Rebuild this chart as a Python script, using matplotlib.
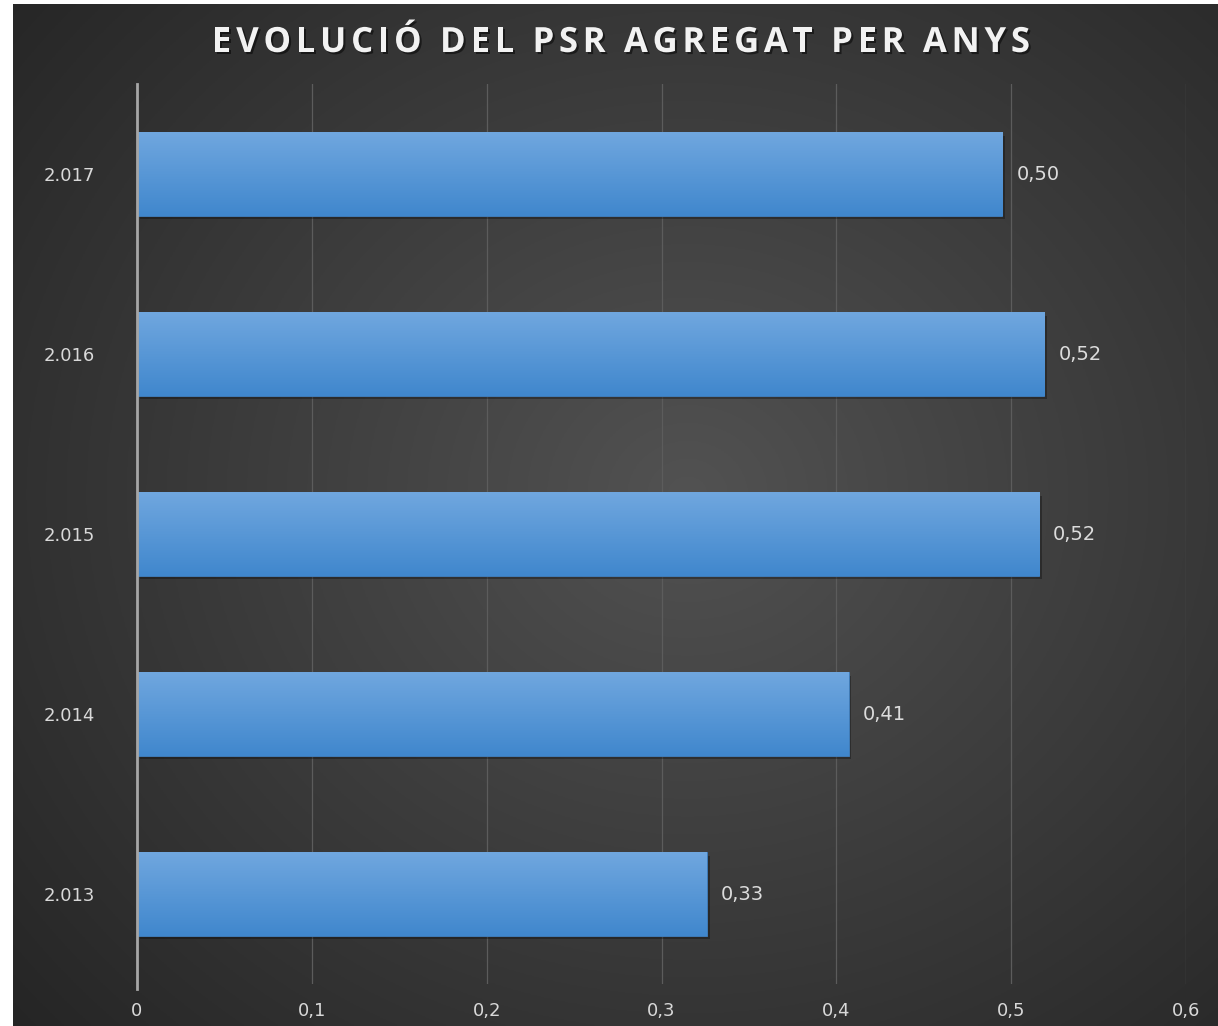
import numpy as np
import matplotlib
matplotlib.use("Agg")
import matplotlib.pyplot as plt
from matplotlib import patheffects as pe

years = ["2.013", "2.014", "2.015", "2.016", "2.017"]
values = [0.326, 0.407, 0.516, 0.519, 0.495]
value_labels = ["0,33", "0,41", "0,52", "0,52", "0,50"]
xticks = [0, 0.1, 0.2, 0.3, 0.4, 0.5, 0.6]
xtick_labels = ["0", "0,1", "0,2", "0,3", "0,4", "0,5", "0,6"]
title = "EVOLUCIÓ DEL PSR AGREGAT PER ANYS"

plt.rcParams['font.family'] = ['DejaVu Sans']

W, H = 1218, 1026
fig = plt.figure(figsize=(W / 100, H / 100), dpi=100)
fig.patch.set_facecolor("white")

# background with radial gradient
bg = fig.add_axes([13 / W, 0, 1 - 13 / W, 1 - 4 / H])
bg.set_axis_off()
yy, xx = np.mgrid[0:1:400j, 0:1:400j]
cx, cy = 0.56, 0.52
r = np.sqrt(((xx - cx) * 1.0) ** 2 + ((yy - cy) * 0.95) ** 2)
r = np.clip(r / 0.75, 0, 1)
c_in = np.array([0x52, 0x52, 0x52]) / 255
c_out = np.array([0x25, 0x25, 0x25]) / 255
img = c_in[None, None, :] * (1 - r[..., None]) + c_out[None, None, :] * r[..., None]
bg.imshow(img, extent=[0, 1, 0, 1], aspect="auto", origin="lower")
bg.set_xlim(0, 1)
bg.set_ylim(0, 1)

ax = fig.add_axes([137 / W, 1 - 984 / H, (1186 - 137) / W, (984 - 84) / H])
ax.patch.set_alpha(0)

pos = np.arange(len(years))
bars = ax.barh(pos, values, height=0.465, color="#5599dc", edgecolor="#3f7fbf",
               linewidth=0.6, zorder=3,
               path_effects=[pe.SimplePatchShadow(offset=(2, -2.5), shadow_rgbFace="black", alpha=0.3),
                             pe.Normal()])

grad = np.linspace(0, 1, 256)[:, None]
top = np.array([0x70, 0xa7, 0xdf]) / 255
bot = np.array([0x40, 0x87, 0xcd]) / 255
gimg = top[None, None, :] * (1 - grad[..., None]) + bot[None, None, :] * grad[..., None]
for b in bars:
    x0, y0 = b.get_x(), b.get_y()
    w, h = b.get_width(), b.get_height()
    im = ax.imshow(gimg, extent=[x0, x0 + w, y0, y0 + h], aspect="auto",
                   origin="upper", zorder=3.5)
    im.set_clip_path(b)

for b, lab in zip(bars, value_labels):
    ax.annotate(lab, (b.get_width(), b.get_y() + b.get_height() / 2),
                xytext=(10, 0), textcoords="offset points", va="center", ha="left",
                color="#dcdcdc", fontsize=14, zorder=5)

ax.set_xlim(0, 0.6)
ax.set_ylim(-0.5, len(years) - 0.5)
ax.set_xticks(xticks)
ax.set_xticklabels(xtick_labels)
ax.set_yticks(pos)
ax.set_yticklabels(years)
ax.tick_params(axis="x", length=0, pad=13, colors="#d9d9d9", labelsize=13)
ax.tick_params(axis="y", length=0, pad=30, colors="#d9d9d9", labelsize=13)
for lab in ax.get_yticklabels():
    lab.set_horizontalalignment("right")

ax.grid(axis="x", color="#5c5c5c", linewidth=0.9, zorder=0)
ax.set_axisbelow(True)
for s in ["top", "right", "bottom"]:
    ax.spines[s].set_visible(False)
ax.spines["left"].set_color("#a6a6a6")
ax.spines["left"].set_linewidth(2)
ax.spines["left"].set_zorder(6)
ax.spines["left"].set_bounds(-0.53, len(years) - 0.5)

# title with letter spacing
fig.canvas.draw()
renderer = fig.canvas.get_renderer()
fs = 25
tfam = ['Open Sans', 'DejaVu Sans']
widths = []
for ch in title:
    t = fig.text(0, 0, ch if ch != " " else "\u00a0", fontsize=fs, fontweight="bold", family=tfam)
    bb = t.get_window_extent(renderer)
    widths.append(bb.width)
    t.remove()
target = 818
tracking = (target - sum(widths)) / (len(title) - 1)
x = 621 - target / 2
ybase = H - 52
for ch, wdt in zip(title, widths):
    fig.text(x / W, ybase / H, ch, fontsize=fs, fontweight="bold", color="#f2f2f2",
             ha="left", va="baseline", family=tfam,
             path_effects=[pe.withSimplePatchShadow(offset=(1.5, -1.5), shadow_rgbFace="black", alpha=0.5)])
    x += wdt + tracking

fig.savefig("out.png", dpi=100, facecolor=fig.get_facecolor())
